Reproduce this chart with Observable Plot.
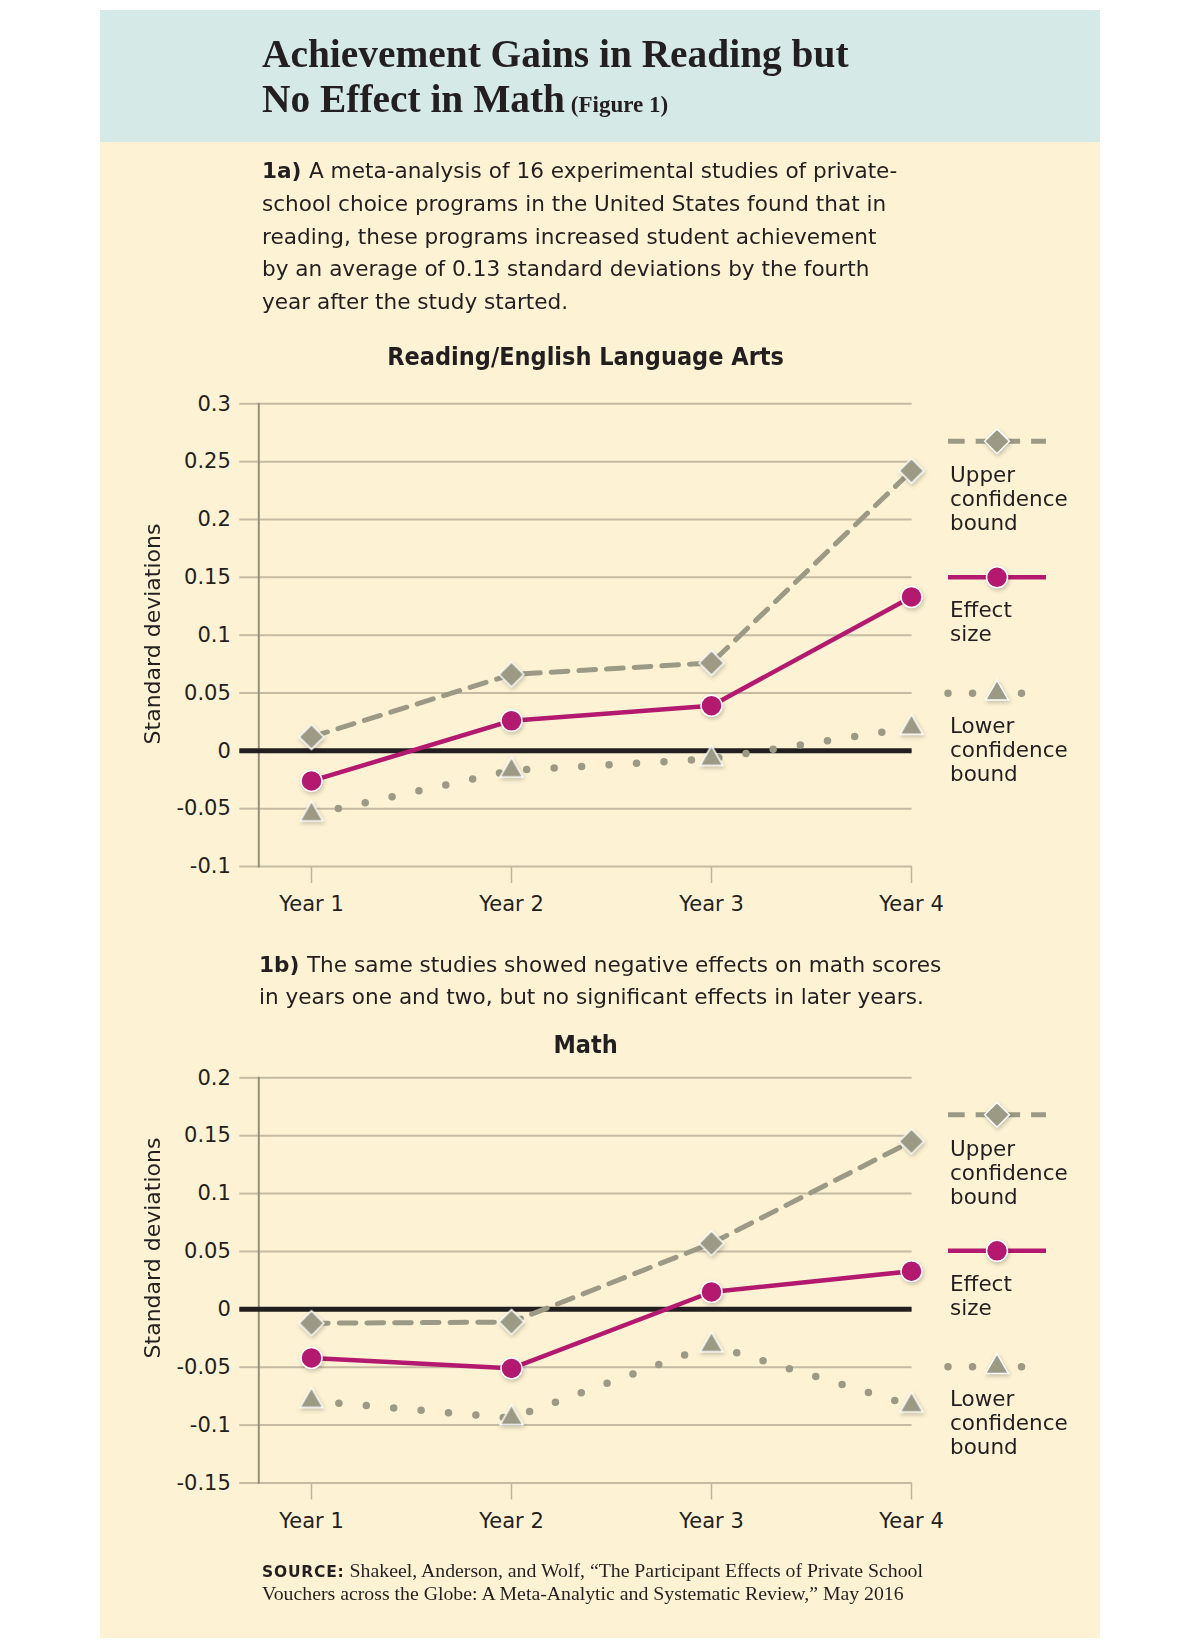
<!DOCTYPE html>
<html><head><meta charset="utf-8">
<script src="https://cdn.jsdelivr.net/npm/d3@7"></script>
<script src="https://cdn.jsdelivr.net/npm/@observablehq/plot@0.6"></script>
<style>
body{margin:0;width:1200px;height:1650px;background:#fff;position:relative;overflow:hidden;}
#panel{position:absolute;left:100px;top:10px;width:1000px;height:1628px;background:#fdf3d4;}
#head{position:absolute;left:100px;top:10px;width:1000px;height:132px;background:#d5eae7;}
.chart{position:absolute;left:100px;}
#overlay{position:absolute;left:0;top:0;pointer-events:none;}
</style></head>
<body>
<div id="panel"></div>
<div id="head"></div>
<div id="reading" class="chart" style="top:380px"></div>
<div id="math" class="chart" style="top:1053.5px"></div>
<svg id="overlay" width="1200" height="1650"></svg>
<script>
// ---- data ----
const years = ["Year 1", "Year 2", "Year 3", "Year 4"];
const readingUpper  = [0.012, 0.066, 0.076, 0.242];
const readingEffect = [-0.026, 0.026, 0.039, 0.133];
const readingLower  = [-0.055, -0.017, -0.007, 0.020];
const mathUpper  = [-0.012, -0.011, 0.057, 0.145];
const mathEffect = [-0.042, -0.051, 0.015, 0.033];
const mathLower  = [-0.079, -0.094, -0.031, -0.083];
const readingTicks = [-0.1, -0.05, 0, 0.05, 0.1, 0.15, 0.2, 0.25, 0.3];
const mathTicks = [-0.15, -0.1, -0.05, 0, 0.05, 0.1, 0.15, 0.2];
const legendLabels = [["Upper", "confidence", "bound"], ["Effect", "size"], ["Lower", "confidence", "bound"]];
const yLabel = "Standard deviations";
const titleLine1 = "Achievement Gains in Reading but";
const titleLine2 = "No Effect in Math";
const titleFig = "(Figure 1)";
const para1 = ["A meta-analysis of 16 experimental studies of private-",
  "school choice programs in the United States found that in",
  "reading, these programs increased student achievement",
  "by an average of 0.13 standard deviations by the fourth",
  "year after the study started."];
const para2 = ["The same studies showed negative effects on math scores",
  "in years one and two, but no significant effects in later years."];
const sourceLines = ["Shakeel, Anderson, and Wolf, \u201cThe Participant Effects of Private School",
  "Vouchers across the Globe: A Meta-Analytic and Systematic Review,\u201d May 2016"];

// ---- style ----
const GREY = "#9c9985", MAGENTA = "#b3196e", GRID = "#c4bba2", INK = "#231f20";
const fmt = d => String(Math.round(d * 100) / 100);

function makeChart(upper, effect, lower, ticks, domain, height, yBottom) {
  const rows = years.map((year, i) => ({year, upper: upper[i], effect: effect[i], lower: lower[i]}));
  const svg = Plot.plot({
    width: 1000, height,
    marginTop: 23.3, marginBottom: height - yBottom, marginLeft: 158.3, marginRight: 188.4,
    style: {background: "transparent", fontFamily: "DejaVu Sans", fontSize: "21px", color: INK, overflow: "visible"},
    x: {type: "point", domain: years, range: [210.5, 811.6], padding: 0},
    y: {domain, ticks},
    marks: [
      Plot.gridY(ticks, {stroke: GRID, strokeOpacity: 1, strokeWidth: 2}),
      Plot.axisY(ticks, {tickSize: 19, tickPadding: 9, stroke: GRID, strokeWidth: 2, fill: INK, tickFormat: fmt, label: null}),
      Plot.axisX(years, {tickSize: 17, tickPadding: 13, stroke: "#bdb5a0", strokeWidth: 1.5, fill: INK, label: null}),
      Plot.frame({anchor: "left", stroke: "#958f7e", strokeWidth: 2}),
      Plot.ruleY([0], {stroke: INK, strokeWidth: 5, insetLeft: -19}),
      Plot.line(rows, {x: "year", y: "upper", stroke: GREY, strokeWidth: 5, strokeDasharray: "16.7,11"}),
      Plot.line(rows, {x: "year", y: "lower", stroke: GREY, strokeWidth: 7.5, strokeDasharray: "0,27.5", strokeLinecap: "round"}),
      Plot.line(rows, {x: "year", y: "effect", stroke: MAGENTA, strokeWidth: 4.5}),
      Plot.dot(rows, {x: "year", y: "upper", symbol: "diamond2", r: 11.2, fill: GREY, stroke: "white", strokeWidth: 1.5}),
      Plot.dot(rows, {x: "year", y: "lower", symbol: "triangle", r: 8.5, fill: GREY, stroke: "white", strokeWidth: 1.5}),
      Plot.dot(rows, {x: "year", y: "effect", symbol: "circle", r: 10.5, fill: MAGENTA, stroke: "white", strokeWidth: 1.5})
    ]
  });
  svg.querySelectorAll('g[aria-label="dot"]').forEach(g => g.style.filter = "drop-shadow(1px 2px 2px rgba(0,0,0,0.22))");
  return svg;
}

document.getElementById("reading").append(makeChart(readingUpper, readingEffect, readingLower, readingTicks, [-0.1, 0.3], 545, 486));
document.getElementById("math").append(makeChart(mathUpper, mathEffect, mathLower, mathTicks, [-0.15, 0.2], 487.5, 428.5));

// ---- overlay texts & legends ----
const ov = d3.select("#overlay");
function text(x, y, str, opts = {}) {
  return ov.append("text").attr("x", x).attr("y", y).text(str)
    .attr("font-family", opts.family || "DejaVu Sans")
    .attr("font-size", opts.size || 20)
    .attr("font-weight", opts.weight || "normal")
    .attr("text-anchor", opts.anchor || "start")
    .attr("fill", INK);
}
// title
text(262, 67, titleLine1, {family: "Liberation Serif", size: 39.4, weight: "bold"});
const t2 = text(262, 112, titleLine2, {family: "Liberation Serif", size: 39.4, weight: "bold"});
t2.append("tspan").attr("font-size", 23).text(" " + titleFig);

// paragraphs
function para(x, y0, lines, lead) {
  lines.forEach((l, i) => {
    const t = text(x, y0 + i * 32.8, "", {size: 21.6});
    if (i === 0) { t.append("tspan").attr("font-weight", "bold").text(lead + " "); }
    t.append("tspan").text(l);
  });
}
para(262, 178, para1, "1a)");
para(259, 971.5, para2, "1b)");

text(585.6, 365, "Reading/English Language Arts", {family: "DejaVu Sans Condensed", size: 25, weight: "bold", anchor: "middle"});
text(585.6, 1052.6, "Math", {family: "DejaVu Sans Condensed", size: 25, weight: "bold", anchor: "middle"});

[634, 1248].forEach(cy => {
  ov.append("text").attr("transform", `translate(152.6,${cy}) rotate(-90)`)
    .attr("text-anchor", "middle").attr("dominant-baseline", "central")
    .attr("font-family", "DejaVu Sans").attr("font-size", 22).attr("fill", INK).text(yLabel);
});

function legend(top) {
  const g = ov.append("g");
  const sym = (type, r) => d3.symbol(type, Math.PI * r * r)();
  const shadow = "drop-shadow(1px 2px 2px rgba(0,0,0,0.22))";
  // upper
  let y = top + 38;
  g.append("line").attr("x1", 948).attr("x2", 1046).attr("y1", y).attr("y2", y)
    .attr("stroke", GREY).attr("stroke-width", 5).attr("stroke-dasharray", "16.7,11");
  g.append("path").attr("d", sym(d3.symbolDiamond2, 11.2)).attr("transform", `translate(997,${y})`)
    .attr("fill", GREY).attr("stroke", "white").attr("stroke-width", 1.5).style("filter", shadow);
  legendLabels[0].forEach((s, i) => text(950, top + 79 + i * 24, s, {size: 21.5}));
  // effect
  y = top + 174;
  g.append("line").attr("x1", 948).attr("x2", 1046).attr("y1", y).attr("y2", y)
    .attr("stroke", MAGENTA).attr("stroke-width", 4.5);
  g.append("path").attr("d", sym(d3.symbolCircle, 10.5)).attr("transform", `translate(997,${y})`)
    .attr("fill", MAGENTA).attr("stroke", "white").attr("stroke-width", 1.5).style("filter", shadow);
  legendLabels[1].forEach((s, i) => text(950, top + 214 + i * 24, s, {size: 21.5}));
  // lower
  y = top + 290;
  g.append("line").attr("x1", 948).attr("x2", 1046).attr("y1", y).attr("y2", y)
    .attr("stroke", GREY).attr("stroke-width", 7.5).attr("stroke-dasharray", "0,24.5").attr("stroke-linecap", "round");
  g.append("path").attr("d", sym(d3.symbolTriangle, 8.5)).attr("transform", `translate(997,${y})`)
    .attr("fill", GREY).attr("stroke", "white").attr("stroke-width", 1.5).style("filter", shadow);
  legendLabels[2].forEach((s, i) => text(950, top + 329.5 + i * 24, s, {size: 21.5}));
}
legend(403.3);
legend(1076.8);

// source
const s1 = text(262, 1577, "", {size: 19.8});
s1.append("tspan").attr("font-family", "DejaVu Sans").attr("font-weight", "bold").attr("font-size", 15.5).attr("letter-spacing", 0.8).text("SOURCE:");
s1.append("tspan").attr("font-family", "Liberation Serif").text(" " + sourceLines[0]);
text(262, 1600, sourceLines[1], {family: "Liberation Serif", size: 19.8});
</script>
</body></html>
